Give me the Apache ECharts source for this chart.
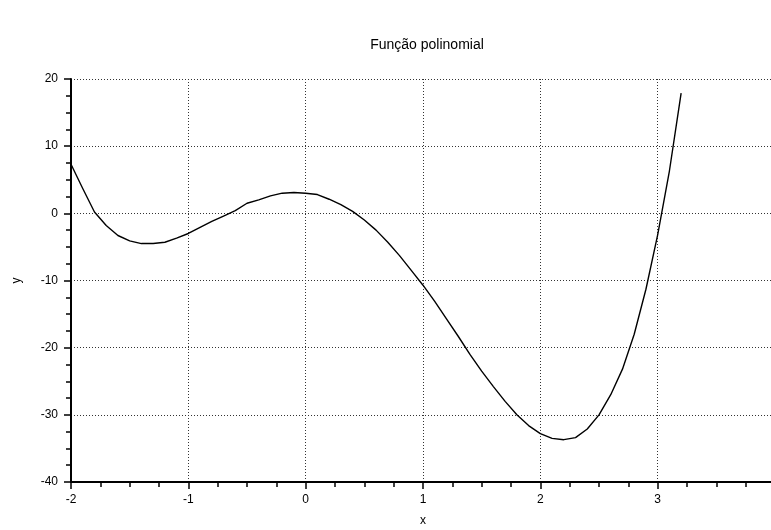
<!DOCTYPE html>
<html>
<head>
<meta charset="utf-8">
<script src="https://cdn.jsdelivr.net/npm/echarts@6/dist/echarts.min.js"></script>
<style>
  html, body { margin: 0; padding: 0; background: #fff; }
  #main { width: 771px; height: 530px; }
</style>
</head>
<body>
<div id="main"></div>
<script>
// sample points of the curve (step 0.1)
var xs = [-2.0, -1.9, -1.8, -1.7, -1.6, -1.5, -1.4, -1.3, -1.2, -1.1,
          -1.0, -0.9, -0.8, -0.7, -0.6, -0.5, -0.4, -0.3, -0.2, -0.1,
           0.0,  0.1,  0.2,  0.3,  0.4,  0.5,  0.6,  0.7,  0.8,  0.9,
           1.0,  1.1,  1.2,  1.3,  1.4,  1.5,  1.6,  1.7,  1.8,  1.9,
           2.0,  2.1,  2.2,  2.3,  2.4,  2.5,  2.6,  2.7,  2.8,  2.9,
           3.0,  3.1,  3.2];
var ys = [7.3, 3.7, 0.2, -1.8, -3.3, -4.1, -4.5, -4.5, -4.3, -3.7,
          -3.0, -2.1, -1.2, -0.4, 0.4, 1.5, 2.0, 2.6, 3.0, 3.1,
           3.0, 2.8, 2.1, 1.3, 0.3, -1.0, -2.5, -4.3, -6.3, -8.5,
          -10.7, -13.1, -15.7, -18.3, -21.0, -23.5, -25.8, -28.0, -30.0, -31.6,
          -32.8, -33.5, -33.7, -33.4, -32.1, -30.0, -27.0, -23.2, -18.0, -11.3,
          -3.2, 6.3, 17.9];

var titleText = 'Função polinomial';
var xName = 'x';
var yName = 'y';

var points = xs.map(function (x, i) { return [x, ys[i]]; });

var chartDom = document.getElementById('main');
var myChart = echarts.init(chartDom);
var option;

var font = 'Liberation Sans, Arial, sans-serif';
var gridDots = { color: '#333', width: 1, type: [1, 2] };

option = {
  animation: false,
  textStyle: { fontFamily: font },
  title: {
    text: titleText,
    left: 422,
    top: 33,
    textAlign: 'center',
    textStyle: { fontSize: 14, fontWeight: 'normal', color: '#000', fontFamily: font }
  },
  grid: {
    left: 71,
    top: 79,
    width: 704,
    height: 403,
    containLabel: false,
    outerBoundsMode: 'none'
  },
  xAxis: {
    type: 'value',
    min: -2,
    max: 4,
    interval: 1,
    name: xName,
    nameLocation: 'middle',
    nameGap: 33,
    nameTextStyle: { color: '#000', fontSize: 12, verticalAlign: 'top' },
    axisLine: { onZero: false, lineStyle: { color: '#000', width: 2 } },
    axisTick: { show: true, length: 7, lineStyle: { color: '#000', width: 1.5 } },
    minorTick: { show: true, splitNumber: 4, length: 5, lineStyle: { color: '#000', width: 1.5 } },
    axisLabel: { color: '#000', fontSize: 12, margin: 12 },
    splitLine: { show: true, lineStyle: gridDots }
  },
  yAxis: {
    type: 'value',
    min: -40,
    max: 20,
    interval: 10,
    name: yName,
    nameLocation: 'middle',
    nameGap: 48,
    nameTextStyle: { color: '#000', fontSize: 12 },
    axisLine: { show: true, onZero: false, lineStyle: { color: '#000', width: 2 } },
    axisTick: { show: true, length: 7, lineStyle: { color: '#000', width: 1.5 } },
    minorTick: { show: true, splitNumber: 4, length: 5, lineStyle: { color: '#000', width: 1.5 } },
    axisLabel: { color: '#000', fontSize: 12, margin: 13 },
    splitLine: { show: true, lineStyle: gridDots }
  },
  series: [
    {
      type: 'line',
      data: points,
      showSymbol: false,
      smooth: false,
      lineStyle: { color: '#000', width: 1.4 }
    }
  ]
};

option && myChart.setOption(option);
</script>
</body>
</html>
